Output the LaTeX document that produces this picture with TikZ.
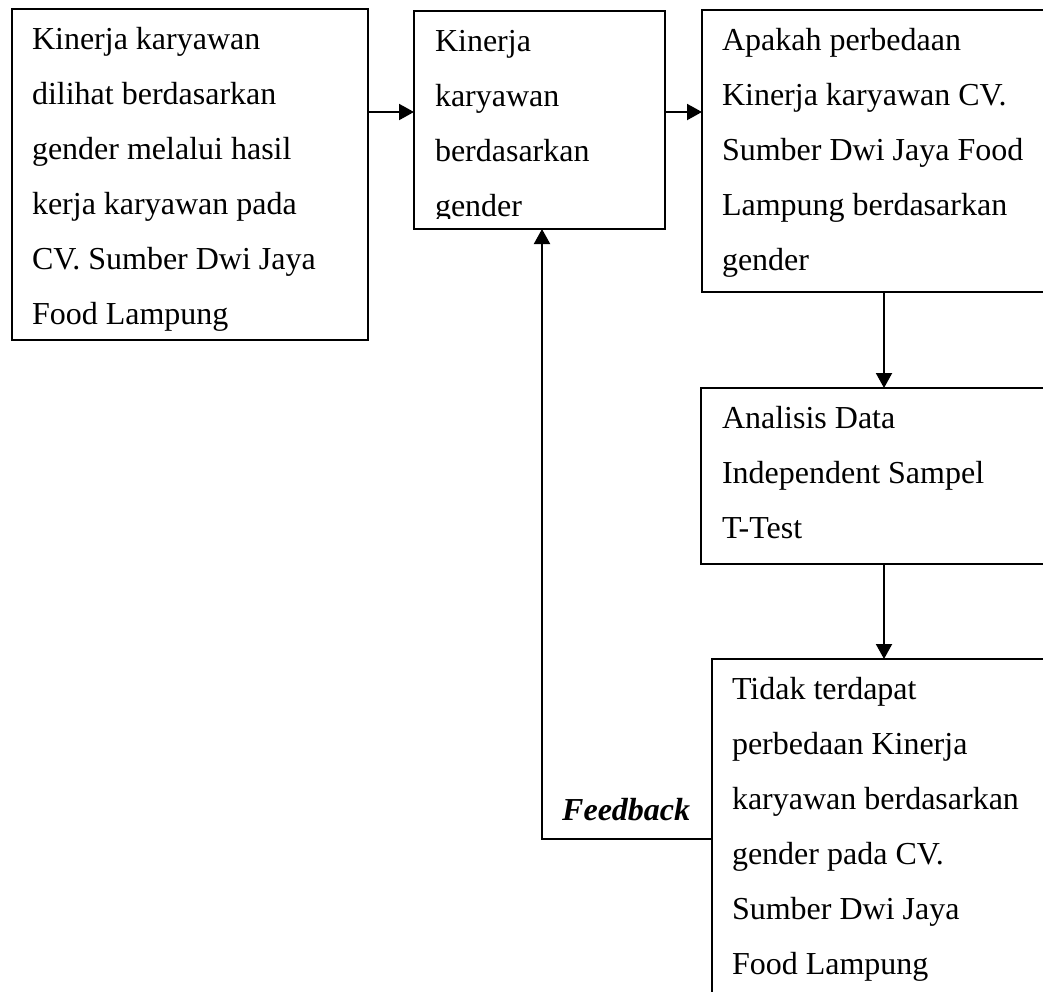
\documentclass[tikz,border=0pt]{standalone}
\usepackage{fontspec}
\setmainfont{Liberation Serif}
\usetikzlibrary{arrows.meta}
\begin{document}
\begin{tikzpicture}[x=1pt,y=-1pt,
  boxshape/.style={draw,line width=2pt,rectangle,inner sep=0pt,outer sep=0pt,anchor=north west},
  txt/.style={anchor=north west,inner sep=0pt,outer sep=0pt,align=left,font=\fontsize{32}{55}\selectfont},
  arr/.style={line width=2pt,-{Triangle[length=15pt,width=16pt]}}]
\useasboundingbox (0,0) rectangle (1043,991);
\clip (0,0) rectangle (1043,991);
\newcommand{\fstrut}{\rule{0pt}{40pt}}
% boxes
\node[boxshape,minimum width=356pt,minimum height=331pt] (a) at (12,9) {};
\node[boxshape,minimum width=251pt,minimum height=218pt] (b) at (414,11) {};
\node[boxshape,minimum width=368pt,minimum height=282pt] (c) at (702,10) {};
\node[boxshape,minimum width=369pt,minimum height=176pt] (d) at (701,388) {};
\node[boxshape,minimum width=358pt,minimum height=361pt] (e) at (712,659) {};
% texts
\node[txt] (at) at (32,9) {\fstrut Kinerja karyawan\\dilihat berdasarkan\\gender melalui hasil\\kerja karyawan pada\\CV. Sumber Dwi Jaya\\Food Lampung};
\begin{scope}
\clip (414,11) rectangle (665,218);
\node[txt] (bt) at (435,11) {\fstrut Kinerja\\karyawan\\berdasarkan\\gender};
\end{scope}
\node[txt] (ct) at (722,10) {\fstrut Apakah perbedaan\\Kinerja karyawan CV.\\Sumber Dwi Jaya Food\\Lampung berdasarkan\\gender};
\node[txt] (dt) at (722,388) {\fstrut Analisis Data\\Independent Sampel\\T-Test};
\node[txt] (et) at (732,659) {\fstrut Tidak terdapat\\perbedaan Kinerja\\karyawan berdasarkan\\gender pada CV.\\Sumber Dwi Jaya\\Food Lampung};
\node[anchor=base west,inner sep=0pt,font=\fontsize{32}{38}\selectfont\bfseries\itshape] (fb) at (562,820) {Feedback};
% connectors
\draw[arr] ([yshift=-103pt]a.north east) coordinate (p1) -- (b.west |- p1);
\draw[arr] ([yshift=-101pt]b.north east) coordinate (p2) -- (c.west |- p2);
\draw[arr] ([xshift=182pt]c.south west) coordinate (p3) -- (d.north -| p3);
\draw[arr] ([xshift=183pt]d.south west) coordinate (p4) -- (e.north -| p4);
\draw[arr] ([yshift=-180pt]e.north west) -| ([xshift=2.5pt]b.south);
\end{tikzpicture}
\end{document}
